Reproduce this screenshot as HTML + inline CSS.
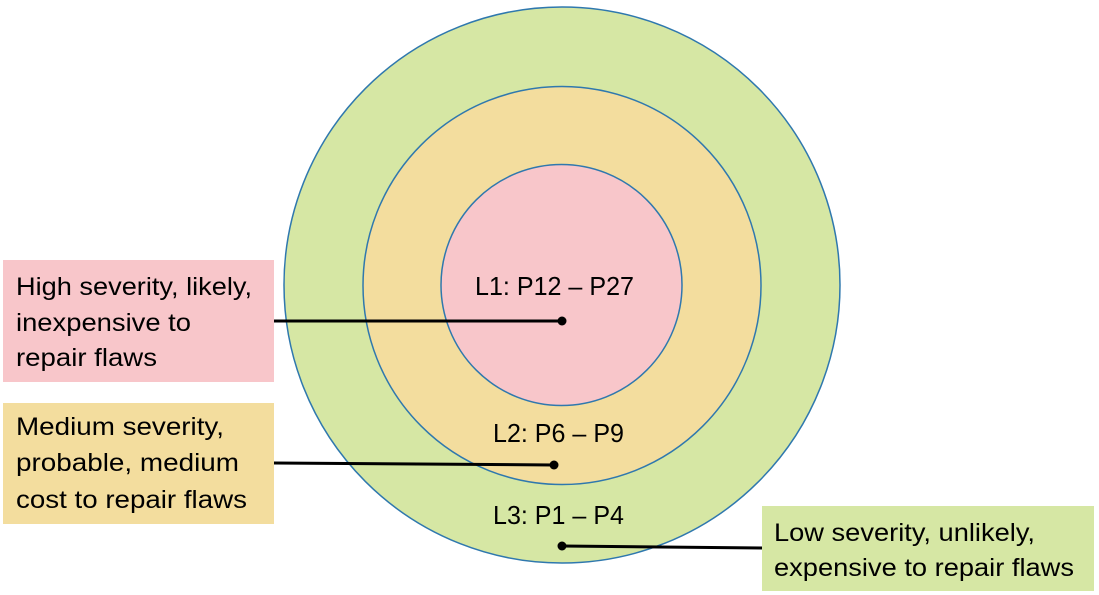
<!DOCTYPE html>
<html>
<head>
<meta charset="utf-8">
<style>
html,body{margin:0;padding:0;background:#fff;}
svg{display:block;}
text{font-family:"Liberation Sans",Arial,sans-serif;fill:#000;}
</style>
</head>
<body>
<svg width="1099" height="595" viewBox="0 0 1099 595" xmlns="http://www.w3.org/2000/svg">
  <rect width="1099" height="595" fill="#ffffff"/>
  <!-- circles -->
  <circle cx="562" cy="285" r="278" fill="#D6E7A4" stroke="#2F78AE" stroke-width="1.5"/>
  <circle cx="562" cy="285.5" r="199" fill="#F3DD9E" stroke="#2F78AE" stroke-width="1.5"/>
  <circle cx="561.5" cy="285" r="120.5" fill="#F8C6CA" stroke="#2F78AE" stroke-width="1.5"/>

  <!-- circle labels -->
  <text x="475" y="295" font-size="26" textLength="159" lengthAdjust="spacingAndGlyphs">L1: P12 – P27</text>
  <text x="493" y="442" font-size="26" textLength="131" lengthAdjust="spacingAndGlyphs">L2: P6 – P9</text>
  <text x="493" y="524" font-size="26" textLength="131" lengthAdjust="spacingAndGlyphs">L3: P1 – P4</text>

  <!-- boxes -->
  <rect x="3" y="260" width="271" height="122" fill="#F8C6CA"/>
  <rect x="3" y="403" width="271" height="121" fill="#F3DD9E"/>
  <rect x="762" y="506" width="332" height="85" fill="#D6E7A4"/>

  <!-- box texts -->
  <text x="16" y="295" font-size="25" textLength="236" lengthAdjust="spacingAndGlyphs">High severity, likely,</text>
  <text x="16" y="331" font-size="25" textLength="175" lengthAdjust="spacingAndGlyphs">inexpensive to</text>
  <text x="16" y="366" font-size="25" textLength="141" lengthAdjust="spacingAndGlyphs">repair flaws</text>

  <text x="16" y="435" font-size="25" textLength="208" lengthAdjust="spacingAndGlyphs">Medium severity,</text>
  <text x="16" y="471" font-size="25" textLength="223" lengthAdjust="spacingAndGlyphs">probable, medium</text>
  <text x="16" y="508" font-size="25" textLength="231" lengthAdjust="spacingAndGlyphs">cost to repair flaws</text>

  <text x="774" y="541" font-size="25" textLength="261" lengthAdjust="spacingAndGlyphs">Low severity, unlikely,</text>
  <text x="774" y="576" font-size="25" textLength="300" lengthAdjust="spacingAndGlyphs">expensive to repair flaws</text>

  <!-- connectors -->
  <line x1="274" y1="321" x2="562" y2="321" stroke="#000" stroke-width="3"/>
  <circle cx="562" cy="321" r="4.5" fill="#000"/>
  <line x1="274" y1="463" x2="554" y2="465" stroke="#000" stroke-width="3"/>
  <circle cx="554" cy="465" r="4.5" fill="#000"/>
  <line x1="562" y1="546" x2="762" y2="548" stroke="#000" stroke-width="3"/>
  <circle cx="562" cy="546" r="4.5" fill="#000"/>
</svg>
</body>
</html>
